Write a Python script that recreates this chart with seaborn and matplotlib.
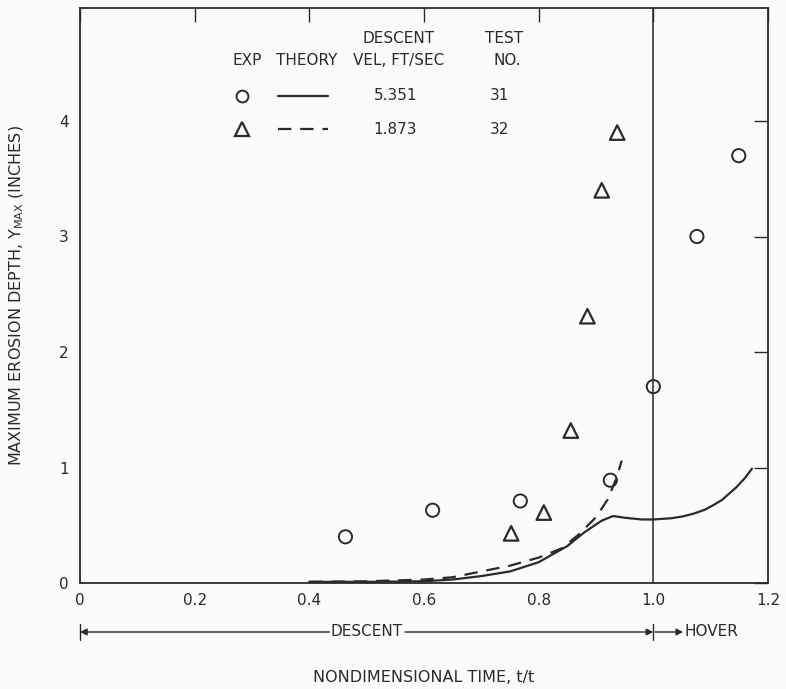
import matplotlib
matplotlib.use("Agg")
import matplotlib.pyplot as plt
import seaborn as sns
import pandas as pd

# ---- data ----
exp31_t = [0.463, 0.615, 0.768, 0.925, 1.000, 1.076, 1.149]
exp31_y = [0.40, 0.63, 0.71, 0.89, 1.70, 3.00, 3.70]
exp32_t = [0.752, 0.809, 0.856, 0.885, 0.910, 0.937]
exp32_y = [0.43, 0.61, 1.32, 2.31, 3.40, 3.90]

th31_t = [0.40, 0.50, 0.60, 0.65, 0.70, 0.75, 0.80, 0.85, 0.88, 0.91, 0.93, 0.95, 0.98, 1.00, 1.03, 1.05, 1.07, 1.09, 1.105, 1.12, 1.145, 1.16, 1.172]
th31_y = [0.01, 0.01, 0.015, 0.03, 0.06, 0.10, 0.18, 0.32, 0.44, 0.54, 0.58, 0.565, 0.55, 0.55, 0.56, 0.575, 0.60, 0.635, 0.675, 0.72, 0.83, 0.91, 0.99]
th32_t = [0.40, 0.50, 0.60, 0.65, 0.70, 0.75, 0.80, 0.84, 0.87, 0.90, 0.92, 0.935, 0.945]
th32_y = [0.01, 0.015, 0.03, 0.05, 0.10, 0.15, 0.22, 0.30, 0.42, 0.57, 0.72, 0.90, 1.06]

x_ticks = [0, 0.2, 0.4, 0.6, 0.8, 1.0, 1.2]
x_ticklabels = ["0", "0.2", "0.4", "0.6", "0.8", "1.0", "1.2"]
y_ticks = [0, 1, 2, 3, 4]
y_ticklabels = ["0", "1", "2", "3", "4"]
legend_vel = ["5.351", "1.873"]
legend_test = ["31", "32"]

sns.set_theme(style="white")
plt.rcParams["font.family"] = ["DejaVu Sans"]
INK = "#2a2a2a"
BG = "#fbfbf9"

fig = plt.figure(figsize=(7.86, 6.89), dpi=100, facecolor=BG)
ax = fig.add_axes([80/786, 1-583/689, (768-80)/786, (583-8)/689])
ax.set_facecolor(BG)

d31 = pd.DataFrame({"t": th31_t, "y": th31_y})
d32 = pd.DataFrame({"t": th32_t, "y": th32_y})
sns.lineplot(data=d31, x="t", y="y", ax=ax, color=INK, lw=1.6, sort=False)
sns.lineplot(data=d32, x="t", y="y", ax=ax, color=INK, lw=1.6, sort=False,
             linestyle=(0, (6, 4)))
e31 = pd.DataFrame({"t": exp31_t, "y": exp31_y})
e32 = pd.DataFrame({"t": exp32_t, "y": exp32_y})
sns.scatterplot(data=e31, x="t", y="y", ax=ax, marker="o", s=90,
                facecolors="none", edgecolor=INK, linewidth=1.4, zorder=5)
sns.scatterplot(data=e32, x="t", y="y", ax=ax, marker="^", s=110,
                facecolors="none", edgecolor=INK, linewidth=1.6, zorder=5)

ax.axvline(1.0, color=INK, lw=1.1)

ax.set_xlim(0, 1.2)
ax.set_ylim(0, 575 / 115.5)
ax.set_xticks(x_ticks)
ax.set_xticklabels(x_ticklabels)
ax.set_yticks(y_ticks)
ax.set_yticklabels(y_ticklabels)
ax.tick_params(axis="both", direction="in", length=10, width=1.0, color=INK,
               labelcolor=INK, labelsize=11, top=True, right=True, pad=8)
ax.tick_params(axis="x", pad=7)
for s in ax.spines.values():
    s.set_color(INK)
    s.set_linewidth(1.3)
ax.set_xlabel("")
ax.set_ylabel("MAXIMUM EROSION DEPTH, $\\mathregular{Y_{MAX}}$ (INCHES)",
              color=INK, fontsize=11.5, labelpad=24)

# legend table
fs = 11
ax.text(0.555, 4.71, "DESCENT", fontsize=fs, color=INK, ha="center", va="center")
ax.text(0.74, 4.71, "TEST", fontsize=fs, color=INK, ha="center", va="center")
ax.text(0.292, 4.52, "EXP", fontsize=fs, color=INK, ha="center", va="center")
ax.text(0.396, 4.52, "THEORY", fontsize=fs, color=INK, ha="center", va="center")
ax.text(0.555, 4.52, "VEL, FT/SEC", fontsize=fs, color=INK, ha="center", va="center")
ax.text(0.745, 4.52, "NO.", fontsize=fs, color=INK, ha="center", va="center")
rows_y = [4.22, 3.93]
ax.plot([0.283], [rows_y[0]], marker="o", ms=8.5, mfc="none", mec=INK, mew=1.4, ls="none")
ax.plot([0.283], [rows_y[1]], marker="^", ms=10, mfc="none", mec=INK, mew=1.6, ls="none")
ax.plot([0.345, 0.432], [rows_y[0]] * 2, color=INK, lw=1.6)
ax.plot([0.345, 0.432], [rows_y[1]] * 2, color=INK, lw=1.6, linestyle=(0, (6, 4)))
for i in range(2):
    ax.text(0.55, rows_y[i], legend_vel[i], fontsize=fs, color=INK, ha="center", va="center")
    ax.text(0.732, rows_y[i], legend_test[i], fontsize=fs, color=INK, ha="center", va="center")

# DESCENT / HOVER bar below axes
trans = ax.get_xaxis_transform()
yb = -49 / 575
dt = 8 / 575
ax.plot([0, 0], [yb - dt, yb + dt], transform=trans, color=INK, lw=1.0, clip_on=False)
ax.plot([1.0, 1.0], [yb - dt, yb + dt], transform=trans, color=INK, lw=1.0, clip_on=False)
ax.text(0.5, yb, "DESCENT", transform=trans, ha="center", va="center", fontsize=11,
        color=INK)
ax.annotate("", xy=(0.0, yb), xytext=(0.435, yb), xycoords=trans, textcoords=trans,
            arrowprops=dict(arrowstyle="-|>", color=INK, lw=1.0, mutation_scale=10,
                            shrinkA=0, shrinkB=0))
ax.annotate("", xy=(1.0, yb), xytext=(0.567, yb), xycoords=trans, textcoords=trans,
            arrowprops=dict(arrowstyle="-|>", color=INK, lw=1.0, mutation_scale=10,
                            shrinkA=0, shrinkB=0))
ax.annotate("", xy=(1.052, yb), xytext=(1.003, yb), xycoords=trans, textcoords=trans,
            arrowprops=dict(arrowstyle="-|>", color=INK, lw=1.0, mutation_scale=10,
                            shrinkA=0, shrinkB=0))
ax.text(1.054, yb, "HOVER", transform=trans, ha="left", va="center", fontsize=11, color=INK)

fig.text((80 + 0.6 * 573) / 786, 1 - 678 / 689, "NONDIMENSIONAL TIME, t/t",
         ha="center", va="center", fontsize=11.5, color=INK)

fig.savefig("out.png", dpi=100, facecolor=BG)
